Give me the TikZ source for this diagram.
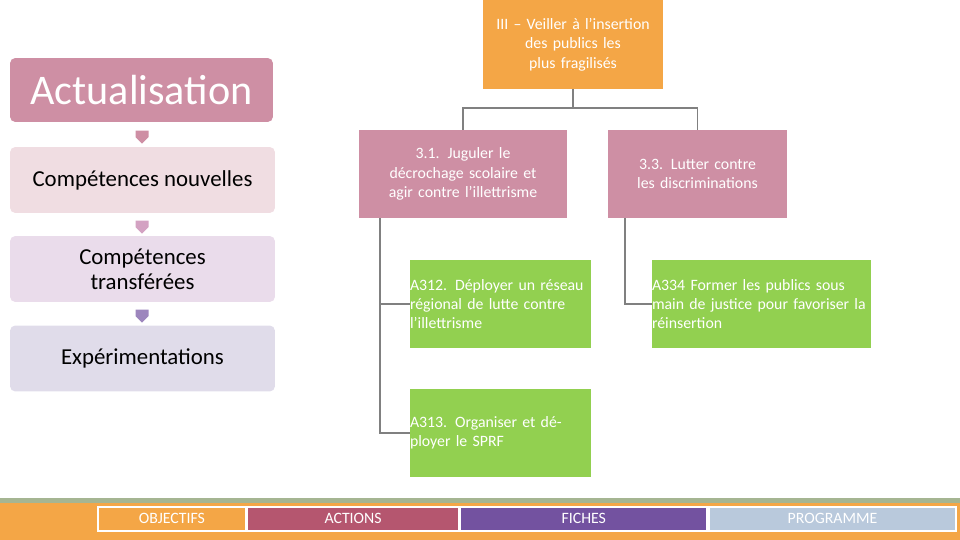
\documentclass[tikz,border=0pt]{standalone}
\usepackage{fontspec}
\setmainfont{Carlito}
\usetikzlibrary{shapes.arrows}
\definecolor{rosedark}{RGB}{206,143,164}
\definecolor{roselight}{RGB}{240,221,226}
\definecolor{lilaclight}{RGB}{234,220,235}
\definecolor{lavender}{RGB}{224,220,234}
\definecolor{orangebox}{RGB}{244,166,70}
\definecolor{greenbox}{RGB}{146,208,80}
\definecolor{barred}{RGB}{181,86,111}
\definecolor{barpurple}{RGB}{115,82,160}
\definecolor{barblue}{RGB}{185,201,220}
\definecolor{bargreen}{RGB}{165,181,146}

\tikzset{
  stagebox/.style={rounded corners=3pt, minimum width=5.3cm, minimum height=1.32cm, inner sep=0pt},
  goalbox/.style={fill=rosedark, text=white, align=center, font=\fontsize{9}{11}\selectfont, inner sep=0pt},
  actbox/.style={fill=greenbox, text=white, align=left, font=\fontsize{9}{11}\selectfont, inner sep=0pt, minimum height=1.76cm},
  tree/.style={draw=gray, line width=0.6pt},
  stepdown/.style={single arrow, shape border rotate=270, minimum width=0.26cm, minimum height=0.26cm, single arrow head extend=0pt, inner sep=0pt},
  barcell/.style={draw=white, line width=1pt, text=white, anchor=north west, inner sep=2pt, minimum height=0.48cm, font=\fontsize{9}{11}\selectfont}
}

\begin{document}
\begin{tikzpicture}[x=0.02cm, y=-0.02cm]
    \useasboundingbox (0,0) rectangle (960,540);

    % left column
    \node[stagebox, fill=rosedark, text=white, minimum width=5.26cm, minimum height=1.28cm, font=\fontsize{24}{26}\selectfont] (actu) at (141.5,90) {Actualisation};
    \node[stagebox, fill=roselight, font=\fontsize{13}{15}\selectfont] (nouv) at (142.5,180) {Compétences nouvelles};
    \node[stagebox, fill=lilaclight, align=center, font=\fontsize{13}{14}\selectfont] (transf) at (142.5,269) {Compétences\\transférées};
    \node[stagebox, fill=lavender, font=\fontsize{13}{15}\selectfont] (exper) at (142.5,358.5) {Expérimentations};

    \node[stepdown, fill=rosedark] at (142,134) {};
    \node[stepdown, fill=rosedark!70!violet!60] at (142,224) {};
    \node[stepdown, fill=barpurple!70] at (142,313) {};

    % tree
    \node[fill=orangebox, text=white, align=center, font=\fontsize{9}{11}\selectfont, minimum width=3.6cm, minimum height=1.78cm, text width=3.3cm, inner sep=0pt] (obj) at (573,44.5) {III – Veiller à l’insertion des publics les plus fragilisés};
    \node[goalbox, minimum width=4.16cm, minimum height=1.76cm, text width=3.9cm] (g31) at (463,174) {3.1. Juguler le décrochage scolaire et agir contre l’illettrisme};
    \node[goalbox, minimum width=3.58cm, minimum height=1.76cm, text width=3.3cm] (g33) at (697.5,174) {3.3. Lutter contre les discriminations};

    \node[actbox, minimum width=3.62cm, text width=3.62cm] (a312) at (500.5,304) {A312. Déployer un réseau régional de lutte contre l’illettrisme};
    \node[actbox, minimum width=4.38cm, text width=4.38cm] (a334) at (761.5,304) {A334 Former les publics sous main de justice pour favoriser la réinsertion};
    \node[actbox, minimum width=3.62cm, text width=3.62cm] (a313) at (500.5,433) {A313. Organiser et déployer le SPRF};

    \coordinate (fork) at (573,108);
    \draw[tree] (obj.south) -- (fork);
    \draw[tree] (g31.north) |- (fork) -| (g33.north);
    \draw[tree] ([xshift=-1.66cm]g31.south) |- (a312.west);
    \draw[tree] ([xshift=-1.66cm]g31.south) |- (a313.west);
    \draw[tree] ([xshift=-1.45cm]g33.south) |- (a334.west);

    % bottom bar
    \fill[bargreen] (0,498) rectangle (960,503);
    \fill[orangebox] (0,503) rectangle (960,540);
    \node[barcell, fill=orangebox, minimum width=2.96cm] (cobj) at (97,506) {OBJECTIFS};
    \node[barcell, fill=barred, minimum width=4.22cm, anchor=west] (cact) at (cobj.east) {ACTIONS};
    \node[barcell, fill=barpurple, minimum width=4.94cm, anchor=west] (cfic) at (cact.east) {FICHES};
    \node[barcell, fill=barblue, minimum width=4.94cm, anchor=west] (cprog) at (cfic.east) {PROGRAMME};
\end{tikzpicture}
\end{document}
